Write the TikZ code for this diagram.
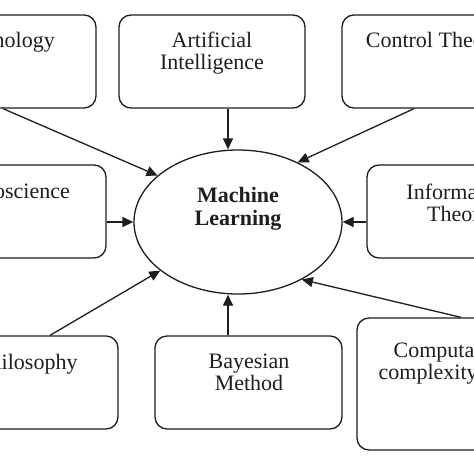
\documentclass[tikz,border=0pt]{standalone}
\usepackage{fontspec}
\setmainfont{Liberation Serif}
\usetikzlibrary{arrows.meta,calc,shapes.geometric}
\definecolor{ink}{HTML}{1E1E1E}
\tikzset{
  box/.style={draw=ink, line width=1.3pt, rectangle, rounded corners=12pt, inner sep=0pt, minimum height=93pt, minimum width=186pt},
  lbl/.style={anchor=north, inner sep=0pt, align=center, text=ink, font=\fontsize{22}{22}\selectfont},
  arr/.style={draw=ink, line width=1.3pt, -{Triangle[length=11pt,width=10pt]}},
}
\begin{document}
\begin{tikzpicture}[x=1pt,y=-1pt]
\useasboundingbox (0,0) rectangle (474,474);
\clip (0,0) rectangle (474,474);
\fill[white] (0,0) rectangle (474,474);
% boxes
\node[box] (tech) at (3,61.5) {};
\node[box] (ai) at (212,61.5) {};
\node[box] (ctrl) at (435,61.5) {};
\node[box, minimum width=192pt] (neuro) at (10,211.5) {};
\node[box, minimum width=182pt] (info) at (458,211.5) {};
\node[box] (phil) at (25,382.5) {};
\node[box, minimum width=187pt] (bayes) at (248.5,382.5) {};
\node[box, minimum width=204pt, minimum height=132pt] (comp) at (459,384) {};
% labels
\node[lbl] (techT) at (3,32) {Technology};
\node[lbl] (aiT) at (212,32) {Artificial\\Intelligence};
\node[lbl] (ctrlT) at (434,32) {Control Theory};
\node[lbl] (neuroT) at (10,184) {Neuroscience};
\node[lbl] (infoT) at (459,184) {Information\\Theory};
\node[lbl] (philT) at (28,354) {Philosophy};
\node[lbl] (bayesT) at (249,354) {Bayesian\\Method};
\node[lbl] (compT) at (459,342) {Computational\\complexity theory};
% center ellipse
\node[draw=ink, line width=1.3pt, ellipse, minimum width=208pt, minimum height=144pt, inner sep=0pt] (ml) at (238,222) {};
\node[lbl, font=\fontsize{22}{23}\selectfont\bfseries] (mlT) at (238,187) {Machine\\Learning};
% connectors
\coordinate (vx) at (228,0);
\draw[arr] (tech.south) -- (ml.150);
\draw[arr] (ai.south -| vx) -- (ml.north -| vx);
\draw[arr] ($(ctrl.south)+(-21,0)$) -- (ml.45);
\draw[arr] (neuro.east |- ml.west) -- (ml.west);
\draw[arr] (info.west |- ml.east) -- (ml.east);
\draw[arr] ($(phil.north)+(25,0)$) -- (ml.212);
\draw[arr] (bayes.north -| vx) -- (ml.south -| vx);
\draw[arr] ($(comp.north)+(2,0)$) -- (ml.318);
\end{tikzpicture}
\end{document}
